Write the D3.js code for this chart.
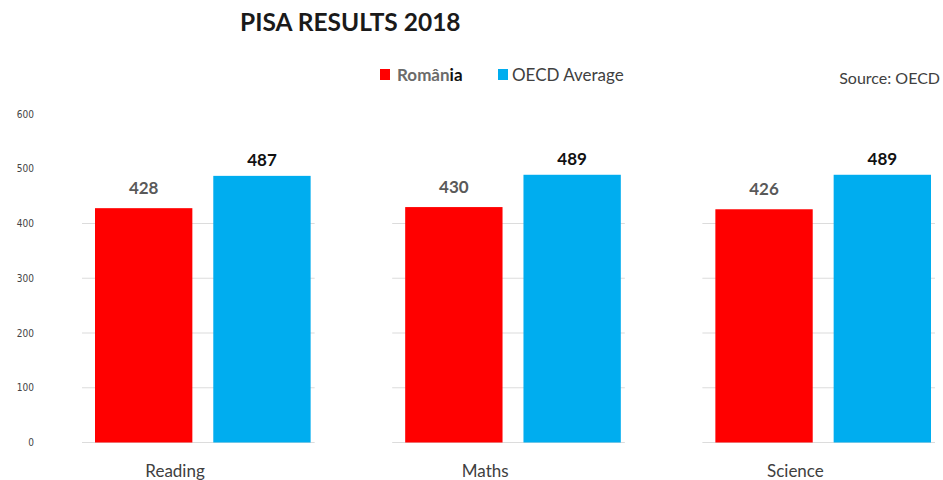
<!DOCTYPE html>
<html>
<head>
<meta charset="utf-8">
<script src="https://cdn.jsdelivr.net/npm/d3@7"></script>
<style>
  body { margin: 0; background: #fff; }
  text { font-family: Lato, "Open Sans", sans-serif; }
</style>
</head>
<body>
<svg width="943" height="480"></svg>
<script>
// data
var categories = ["Reading", "Maths", "Science"];
var series = ["România", "OECD Average"];
var romania = [428, 430, 426];
var oecd = [487, 489, 489];
var yTicks = [0, 100, 200, 300, 400, 500, 600];
var gridTicks = [0, 100, 200, 300, 400];
var colors = ["#ff0000", "#00adef"];

var svg = d3.select("svg");

var yScale = d3.scaleLinear()
  .domain([0, 600])
  .range([442.5, 114]);

var xScale = d3.scaleBand()
  .domain(categories)
  .range([82, 935])
  .paddingInner(0.25)
  .paddingOuter(0);

var bw = xScale.bandwidth();
var xInner = d3.scaleBand()
  .domain(series)
  .range([13, bw - 4])
  .paddingInner(0.177)
  .paddingOuter(0);

// title
svg.append("text")
  .attr("x", 240).attr("y", 31)
  .attr("font-size", 24.5).attr("font-weight", "bold")
  .attr("fill", "#1a1a1a")
  .text("PISA RESULTS 2018");

// legend
var legend = svg.append("g");
var legX = [380, 498];
series.forEach(function(s, i) {
  legend.append("rect")
    .attr("x", legX[i]).attr("y", 69)
    .attr("width", 10).attr("height", 11)
    .attr("fill", colors[i]);
});
var rt = legend.append("text")
  .attr("x", 397).attr("y", 81)
  .attr("font-size", 17).attr("font-weight", "bold")
  .attr("fill", "#6b6b6b");
rt.append("tspan").text("Român");
rt.append("tspan").attr("fill", "#111").text("ia");
legend.append("text")
  .attr("x", 512).attr("y", 81)
  .attr("font-size", 17)
  .attr("fill", "#404040")
  .text("OECD Average");

svg.append("text")
  .attr("x", 940).attr("y", 84)
  .attr("text-anchor", "end")
  .attr("font-size", 16)
  .attr("fill", "#404040")
  .text("Source: OECD");

// y axis labels
var yAxis = d3.axisLeft(yScale)
  .tickValues(yTicks)
  .tickSize(0)
  .tickPadding(0);
var yA = svg.append("g")
  .attr("transform", "translate(34,0)")
  .call(yAxis);
yA.select(".domain").remove();
yA.selectAll("text")
  .attr("font-size", 10)
  .attr("fill", "#444")
  .style("font-family", "'DejaVu Sans Condensed', sans-serif");

// panels
var groups = svg.selectAll(".grp")
  .data(categories)
  .enter().append("g")
  .attr("class", "grp")
  .attr("transform", function(d) { return "translate(" + xScale(d) + ",0)"; });

groups.selectAll(".grid")
  .data(gridTicks)
  .enter().append("line")
  .attr("x1", 0).attr("x2", bw)
  .attr("y1", function(d) { return yScale(d); })
  .attr("y2", function(d) { return yScale(d); })
  .attr("stroke", "#dcdcdc")
  .attr("stroke-width", 1.2);

var rows = categories.map(function(c, i) {
  return [
    { series: series[0], value: romania[i], color: colors[0] },
    { series: series[1], value: oecd[i], color: colors[1] }
  ];
});

groups.each(function(c, i) {
  var g = d3.select(this);
  g.selectAll("rect")
    .data(rows[i])
    .enter().append("rect")
    .attr("x", function(d) { return xInner(d.series); })
    .attr("y", function(d) { return yScale(d.value); })
    .attr("width", xInner.bandwidth())
    .attr("height", function(d) { return yScale(0) - yScale(d.value); })
    .attr("fill", function(d) { return d.color; });

  g.selectAll(".val")
    .data(rows[i])
    .enter().append("text")
    .attr("class", "val")
    .attr("x", function(d) { return xInner(d.series) + xInner.bandwidth() / 2; })
    .attr("y", function(d, j) { return yScale(d.value) - (j == 0 ? 14 : 10); })
    .attr("text-anchor", "middle")
    .attr("font-size", 17).attr("font-weight", "bold")
    .attr("fill", function(d, j) { return j == 0 ? "#595959" : "#111"; })
    .text(function(d) { return d.value; });

  g.append("text")
    .attr("x", bw * 0.4)
    .attr("y", 477)
    .attr("text-anchor", "middle")
    .attr("font-size", 17)
    .attr("fill", "#404040")
    .text(c);
});
</script>
</body>
</html>
